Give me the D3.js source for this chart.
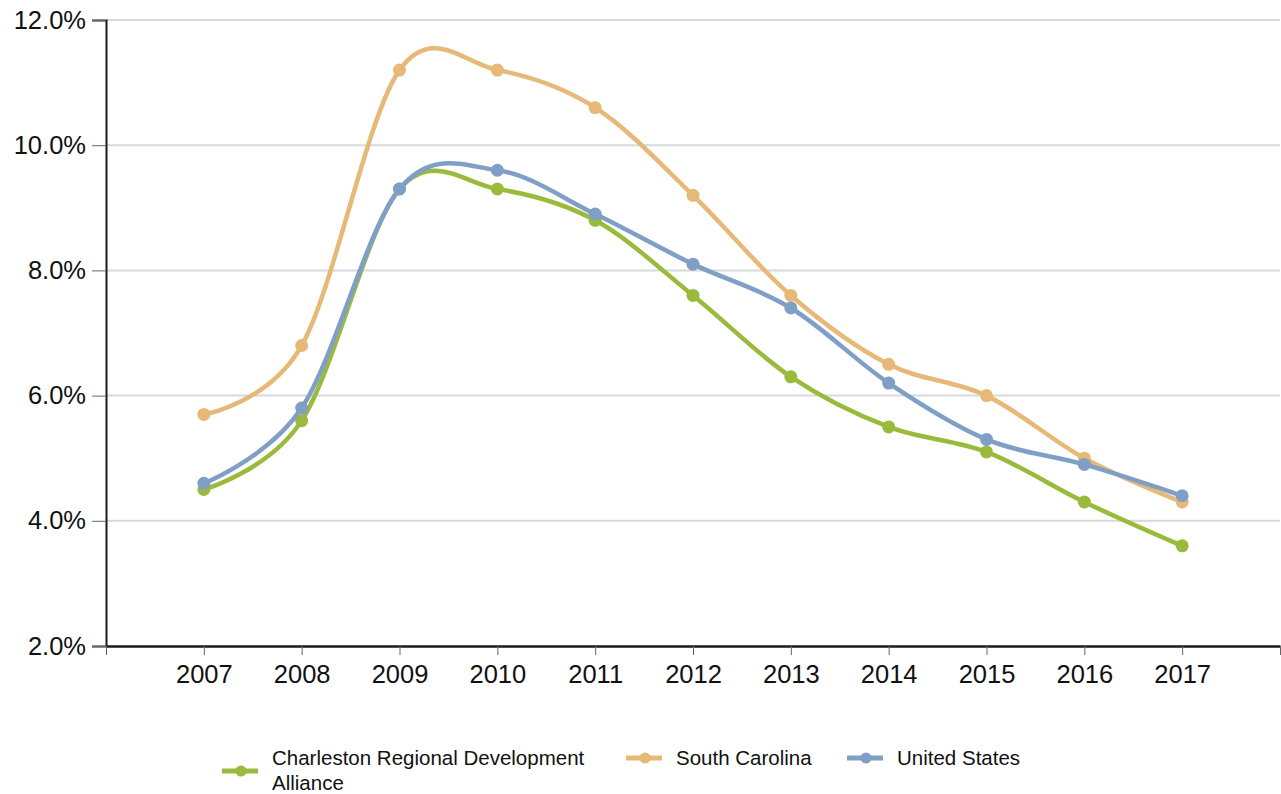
<!DOCTYPE html>
<html>
<head>
<meta charset="utf-8">
<script src="https://cdn.jsdelivr.net/npm/d3@7"></script>
<style>
  body { margin: 0; background: #fff; }
  svg { display: block; font-family: "Liberation Sans", Arial, sans-serif; }
</style>
</head>
<body>
<svg id="chart" width="1281" height="794"></svg>
<script>
// data
const years = [2007, 2008, 2009, 2010, 2011, 2012, 2013, 2014, 2015, 2016, 2017];
const charleston = [4.5, 5.6, 9.3, 9.3, 8.8, 7.6, 6.3, 5.5, 5.1, 4.3, 3.6];
const southCarolina = [5.7, 6.8, 11.2, 11.2, 10.6, 9.2, 7.6, 6.5, 6.0, 5.0, 4.3];
const unitedStates = [4.6, 5.8, 9.3, 9.6, 8.9, 8.1, 7.4, 6.2, 5.3, 4.9, 4.4];
const yTicks = [2, 4, 6, 8, 10, 12];

const series = [
    { name: 'Charleston Regional Development Alliance', values: charleston, color: '#9aba3c' },
    { name: 'South Carolina', values: southCarolina, color: '#e6b978' },
    { name: 'United States', values: unitedStates, color: '#809fc6' }
];

const svg = d3.select('#chart');
const margin = { top: 20, right: 1, bottom: 148, left: 106 };
const W = 1281, H = 794;

const x = d3.scaleLinear()
    .domain([years[0] - 1, years[years.length - 1] + 1])
    .range([margin.left, W - margin.right]);
const y = d3.scaleLinear()
    .domain([2, 12])
    .range([H - margin.bottom, margin.top]);

// gridlines
svg.append('g')
    .selectAll('line')
    .data(yTicks.slice(1))
    .join('line')
    .attr('x1', margin.left).attr('x2', W - margin.right)
    .attr('y1', d => y(d)).attr('y2', d => y(d))
    .attr('stroke', '#d9d9d9')
    .attr('stroke-width', 2);

// y axis
const yAxis = svg.append('g')
    .attr('transform', `translate(${margin.left},0)`)
    .call(d3.axisLeft(y).tickValues(yTicks).tickFormat(d => d.toFixed(1) + '%').tickSize(14).tickPadding(6));
yAxis.select('.domain').attr('stroke', '#1a1a1a').attr('stroke-width', 2);
yAxis.selectAll('.tick line').attr('stroke', '#666');
yAxis.selectAll('text').attr('font-size', 25.5).attr('fill', '#111')
    .attr('font-family', '"Liberation Sans", Arial, sans-serif');

// x axis
const xTickVals = d3.range(years[0] - 1, years[years.length - 1] + 2);
const xAxis = svg.append('g')
    .attr('transform', `translate(0,${H - margin.bottom})`)
    .call(d3.axisBottom(x).tickValues(xTickVals)
        .tickFormat(d => years.includes(d) ? String(d) : '')
        .tickSize(9).tickSizeOuter(0).tickPadding(10));
xAxis.select('.domain').attr('stroke', '#1a1a1a').attr('stroke-width', 2.5);
xAxis.selectAll('.tick line').attr('stroke', '#666');
xAxis.selectAll('text').attr('font-size', 25.5).attr('fill', '#111')
    .attr('font-family', '"Liberation Sans", Arial, sans-serif');

// lines
const line = d3.line()
    .x((d, i) => x(years[i]))
    .y(d => y(d))
    .curve(d3.curveCardinal.tension(0));

series.forEach(s => {
    const g = svg.append('g');
    g.append('path')
        .attr('d', line(s.values))
        .attr('fill', 'none')
        .attr('stroke', s.color)
        .attr('stroke-width', 4.5)
        .attr('stroke-linejoin', 'round');
    g.selectAll('circle')
        .data(s.values)
        .join('circle')
        .attr('cx', (d, i) => x(years[i]))
        .attr('cy', d => y(d))
        .attr('r', 6.5)
        .attr('fill', s.color);
});

// legend
const legendItems = [
    { s: series[0], x: 222, y: 771, lines: ['Charleston Regional Development', 'Alliance'] },
    { s: series[1], x: 626, y: 758, lines: ['South Carolina'] },
    { s: series[2], x: 847, y: 758, lines: ['United States'] }
];
legendItems.forEach(it => {
    const g = svg.append('g').attr('transform', `translate(${it.x},${it.y})`);
    g.append('line').attr('x1', 0).attr('x2', 36).attr('y1', 0).attr('y2', 0)
        .attr('stroke', it.s.color).attr('stroke-width', 5);
    g.append('circle').attr('cx', 19).attr('cy', 0).attr('r', 5.5).attr('fill', it.s.color);
    const t = g.append('text')
        .attr('x', 50)
        .attr('font-size', 20.5)
        .attr('fill', '#111');
    const y0 = it.lines.length > 1 ? -13 : 0;
    it.lines.forEach((l, i) => {
        t.append('tspan').attr('x', 50).attr('y', y0 + i * 25).attr('dy', '0.35em').text(l);
    });
});
</script>
</body>
</html>
